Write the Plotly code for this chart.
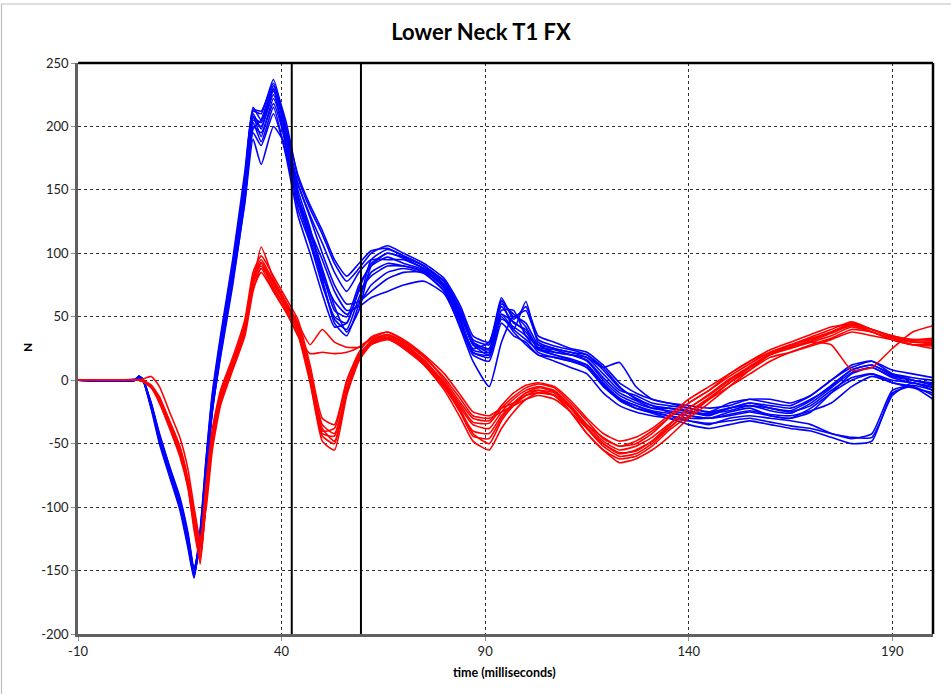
import plotly.graph_objects as go

# ---------------- data ----------------
TIME = [-10, 4, 5, 6, 8, 10, 12.5, 15, 17, 18.5, 20, 21.5, 23, 25, 28, 31, 33, 35, 38, 41,
        44, 47, 50, 53, 56, 59, 62, 66, 70, 75, 80, 84, 87, 91, 94, 97, 100, 103, 107, 111,
        115, 119, 123, 127, 131, 135, 140, 145, 150, 155, 160, 165, 170, 175, 180, 185, 190, 195, 200]

blue_01 = [0,0,3,0,-20,-45,-72,-97,-125,-152,-125,-70,-20,25,85,150,205,200,225,190,140,115,85,55,50,75,90,97,92,87,72,45,25,30,58,45,40,25,22,20,15,0,-12,-18,-22,-22,-25,-28,-22,-20,-22,-25,-20,-8,2,5,0,-2,-5]
blue_02 = [0,1,3,0,-22,-48,-75,-100,-130,-155,-120,-65,-15,30,90,160,212,210,237,200,150,120,80,45,35,60,95,103,98,90,75,50,30,25,62,40,62,30,25,22,20,10,-5,-15,-20,-25,-28,-30,-25,-22,-28,-30,-25,-10,5,10,3,0,-3]
blue_03 = [0,0,2,0,-18,-42,-68,-92,-120,-148,-130,-75,-25,20,78,140,190,170,200,185,145,118,95,70,55,58,65,70,75,78,68,42,20,15,45,35,30,20,18,15,10,-5,-15,-22,-25,-28,-32,-35,-30,-28,-30,-32,-35,-42,-45,-45,-12,-2,-8]
blue_04 = [0,0,3,1,-21,-46,-70,-95,-128,-150,-118,-60,-10,35,95,165,215,205,230,195,155,130,108,85,70,85,95,95,95,88,78,55,30,22,55,55,35,28,25,22,18,5,-8,-12,-18,-20,-22,-25,-22,-18,-20,-22,-15,-5,8,12,5,2,0]
blue_05 = [0,0,2,0,-19,-44,-71,-98,-127,-153,-128,-72,-22,22,82,148,200,195,218,188,145,112,78,48,40,65,85,92,90,85,70,40,15,-5,30,50,45,28,22,20,18,10,14,-5,-15,-18,-20,-22,-20,-15,-15,-18,-12,0,10,15,5,0,-2]
blue_06 = [0,0,3,0,-23,-50,-76,-102,-132,-156,-122,-68,-18,28,88,155,208,192,222,192,155,128,100,75,60,62,70,80,85,85,75,52,28,20,50,38,28,20,15,10,5,-10,-20,-25,-28,-30,-35,-38,-35,-32,-35,-38,-40,-45,-50,-48,-10,-5,-12]
blue_07 = [0,0,3,0,-20,-44,-70,-94,-122,-150,-126,-74,-24,18,75,142,198,205,232,205,160,135,115,92,78,88,100,106,100,92,80,58,35,30,65,48,58,35,30,25,22,12,-2,-10,-15,-18,-22,-25,-18,-15,-18,-20,-12,0,12,15,8,5,2]
blue_08 = [0,0,2,0,-20,-47,-73,-99,-126,-151,-124,-66,-16,26,86,152,210,198,228,185,135,108,75,50,45,72,92,100,96,88,74,48,22,20,48,42,35,22,18,15,12,-2,-15,-20,-25,-28,-30,-30,-28,-25,-28,-30,-22,-10,0,5,-2,-5,-15]
blue_09 = [0,0,3,0,-21,-47,-74,-100,-129,-154,-121,-62,-12,32,92,158,213,212,234,198,145,118,88,58,38,55,90,100,97,90,77,52,28,24,60,52,42,26,24,20,16,2,-10,-16,-22,-24,-26,-26,-24,-20,-24,-26,-18,-6,6,10,2,-2,-6]
blue_10 = [0,0,2,0,-19,-43,-69,-94,-123,-149,-127,-73,-23,21,80,145,195,185,210,180,140,110,82,62,52,60,75,85,88,84,70,45,22,18,52,40,32,24,20,16,10,-4,-16,-22,-26,-30,-32,-34,-32,-30,-33,-36,-38,-42,-46,-42,-8,-4,-8]
blue_11 = [0,0,3,0,-20,-46,-72,-96,-124,-151,-123,-68,-19,27,88,154,207,203,229,200,162,138,118,95,82,92,102,104,98,90,78,55,32,28,63,50,55,32,27,24,20,8,-6,-14,-20,-22,-24,-27,-22,-18,-22,-24,-16,-4,8,12,4,0,-4]
blue_12 = [0,0,2,0,-21,-45,-71,-96,-126,-153,-126,-70,-21,24,84,150,203,188,215,178,130,100,68,42,45,70,82,90,90,86,73,47,24,22,52,46,38,25,20,17,12,-3,-14,-20,-24,-26,-28,-30,-27,-24,-27,-28,-24,-18,-5,3,-2,-6,-10]

red_01 = [0,0,0,-1,-5,-15,-35,-55,-80,-110,-135,-88,-45,-15,12,42,78,92,72,58,40,5,-40,-38,-2,20,30,35,28,15,-3,-22,-35,-38,-25,-15,-8,-5,-8,-20,-35,-48,-55,-52,-45,-35,-22,-12,0,10,20,25,30,35,42,38,33,30,30]
red_02 = [0,0,0,1,3,-5,-25,-45,-70,-100,-125,-100,-55,-20,8,35,70,88,78,60,45,28,40,30,26,26,32,36,30,18,2,-15,-28,-30,-25,-20,-15,-12,-15,-25,-38,-50,-58,-55,-48,-38,-25,-15,-5,5,15,22,27,32,38,35,32,28,28]
red_03 = [0,0,0,-1,-6,-18,-38,-60,-85,-115,-140,-95,-48,-18,10,38,72,85,70,55,35,21,22,21,22,26,33,38,32,20,5,-12,-25,-28,-22,-18,-12,-10,-12,-22,-35,-45,-52,-50,-42,-30,-18,-8,5,15,22,28,32,38,45,40,35,32,32]
red_04 = [0,0,0,-1,-4,-14,-32,-52,-78,-108,-145,-92,-50,-18,10,40,75,105,80,62,42,0,-48,-55,-12,15,28,33,25,12,-8,-30,-48,-55,-38,-25,-15,-10,-12,-25,-42,-55,-62,-60,-52,-40,-28,-15,-2,8,18,22,28,33,40,38,32,28,25]
red_05 = [0,0,0,-1,-5,-16,-36,-57,-82,-112,-130,-85,-42,-10,15,45,82,95,78,62,45,8,-35,-42,-8,18,28,32,26,14,-5,-25,-40,-42,-28,-18,-10,-8,-12,-25,-42,-55,-65,-62,-55,-45,-30,-18,-5,8,20,26,30,28,8,10,25,38,43]
red_06 = [0,0,0,-1,-6,-17,-37,-58,-83,-113,-138,-90,-46,-14,13,43,80,90,74,57,38,2,-42,-44,-6,19,31,36,29,16,-2,-20,-33,-34,-22,-13,-6,-3,-6,-18,-32,-46,-52,-48,-40,-30,-18,-8,3,13,22,28,34,40,46,40,35,32,33]
red_07 = [0,0,0,0,-4,-13,-33,-53,-78,-105,-128,-80,-38,-8,18,48,85,98,82,65,48,12,-30,-35,0,22,34,38,31,19,0,-18,-30,-32,-20,-10,-4,-2,-5,-16,-30,-42,-48,-45,-38,-28,-15,-5,5,15,24,30,36,42,44,38,32,28,27]
red_08 = [0,0,0,-1,-5,-15,-34,-56,-81,-111,-132,-86,-44,-12,14,44,79,93,76,60,42,4,-38,-48,-10,17,29,34,27,13,-4,-24,-42,-50,-32,-20,-12,-8,-10,-22,-38,-52,-60,-58,-50,-38,-25,-14,-2,10,20,26,31,37,43,40,34,30,29]
red_09 = [0,0,0,-1,-5,-16,-35,-57,-83,-118,-142,-96,-50,-16,11,41,76,88,70,54,36,-2,-44,-50,-8,17,29,33,26,12,-6,-26,-44,-46,-30,-18,-10,-6,-9,-21,-37,-50,-57,-56,-48,-36,-22,-11,1,11,21,27,33,38,44,40,34,31,31]

BLUE_SERIES = [blue_01, blue_02, blue_03, blue_04, blue_05, blue_06, blue_07, blue_08, blue_09, blue_10, blue_11, blue_12]
RED_SERIES = [red_01, red_02, red_03, red_04, red_05, red_06, red_07, red_08, red_09]

VLINES = [42.5, 59.5]
X_TICKS = [-10, 40, 90, 140, 190]
Y_TICKS = [-200, -150, -100, -50, 0, 50, 100, 150, 200, 250]

TITLE = "Lower Neck T1 FX"
X_TITLE = "time (milliseconds)"
Y_TITLE = "N"

# ---------------- figure ----------------
FONT = "Lato, 'Open Sans', sans-serif"
fig = go.Figure()

for s in BLUE_SERIES:
    fig.add_trace(go.Scatter(x=TIME, y=s, mode="lines", line=dict(color="#0000ff", width=1.6, shape="spline", smoothing=0.5),
                             showlegend=False, hoverinfo="skip"))
for s in RED_SERIES:
    fig.add_trace(go.Scatter(x=TIME, y=s, mode="lines", line=dict(color="#ff0000", width=1.6, shape="spline", smoothing=0.5),
                             showlegend=False, hoverinfo="skip"))

shapes = []
for v in VLINES:
    shapes.append(dict(type="line", xref="x", yref="paper", x0=v, x1=v, y0=0, y1=1,
                       line=dict(color="black", width=2)))
# black top and right frame of plot area
shapes.append(dict(type="line", xref="paper", yref="paper", x0=0, x1=1, y0=1, y1=1, line=dict(color="black", width=2.5)))
shapes.append(dict(type="line", xref="paper", yref="paper", x0=1, x1=1, y0=0, y1=1, line=dict(color="black", width=2.5)))
# outer chart frame
shapes.append(dict(type="rect", xref="paper", yref="paper", x0=-0.0895, x1=1.035, y0=-0.12, y1=1.1033,
                   line=dict(color="#bdbdbd", width=1.2), layer="below"))

fig.update_layout(
    width=951, height=694,
    margin=dict(l=78, r=18, t=63, b=60),
    paper_bgcolor="white", plot_bgcolor="white",
    title=dict(text="<b>%s</b>" % TITLE, x=481 / 951, xref="container", xanchor="center",
               y=1 - 32 / 694, yref="container", yanchor="middle",
               font=dict(family=FONT, size=22, color="black")),
    shapes=shapes,
    annotations=[
        dict(text="<b>%s</b>" % X_TITLE, xref="paper", yref="paper", x=0.4994, y=(634 - 672) / 571,
             showarrow=False, xanchor="center", yanchor="middle", font=dict(family=FONT, size=12.5, color="black")),
        dict(text="<b>%s</b>" % Y_TITLE, xref="paper", yref="paper", x=(27 - 78) / 855, y=(634 - 348) / 571,
             showarrow=False, xanchor="center", yanchor="middle", textangle=-90,
             font=dict(family=FONT, size=12, color="black")),
    ],
)

fig.update_xaxes(range=[-10, 200], tickvals=X_TICKS, ticktext=[str(v) for v in X_TICKS],
                 showgrid=True, gridcolor="#303030", griddash="dot", gridwidth=1,
                 showline=True, linecolor="#606060", linewidth=2.5, zeroline=False,
                 ticks="outside", ticklen=4, tickcolor="#909090",
                 tickfont=dict(family=FONT, size=13, color="#222222"))
fig.update_yaxes(range=[-200, 250], tickvals=Y_TICKS, ticktext=[str(v) for v in Y_TICKS],
                 showgrid=True, gridcolor="#303030", griddash="dot", gridwidth=1,
                 showline=True, linecolor="#606060", linewidth=2.5, zeroline=False,
                 ticks="outside", ticklen=4, tickcolor="#909090",
                 tickfont=dict(family=FONT, size=13, color="#222222"))

fig.write_html("out.html")
